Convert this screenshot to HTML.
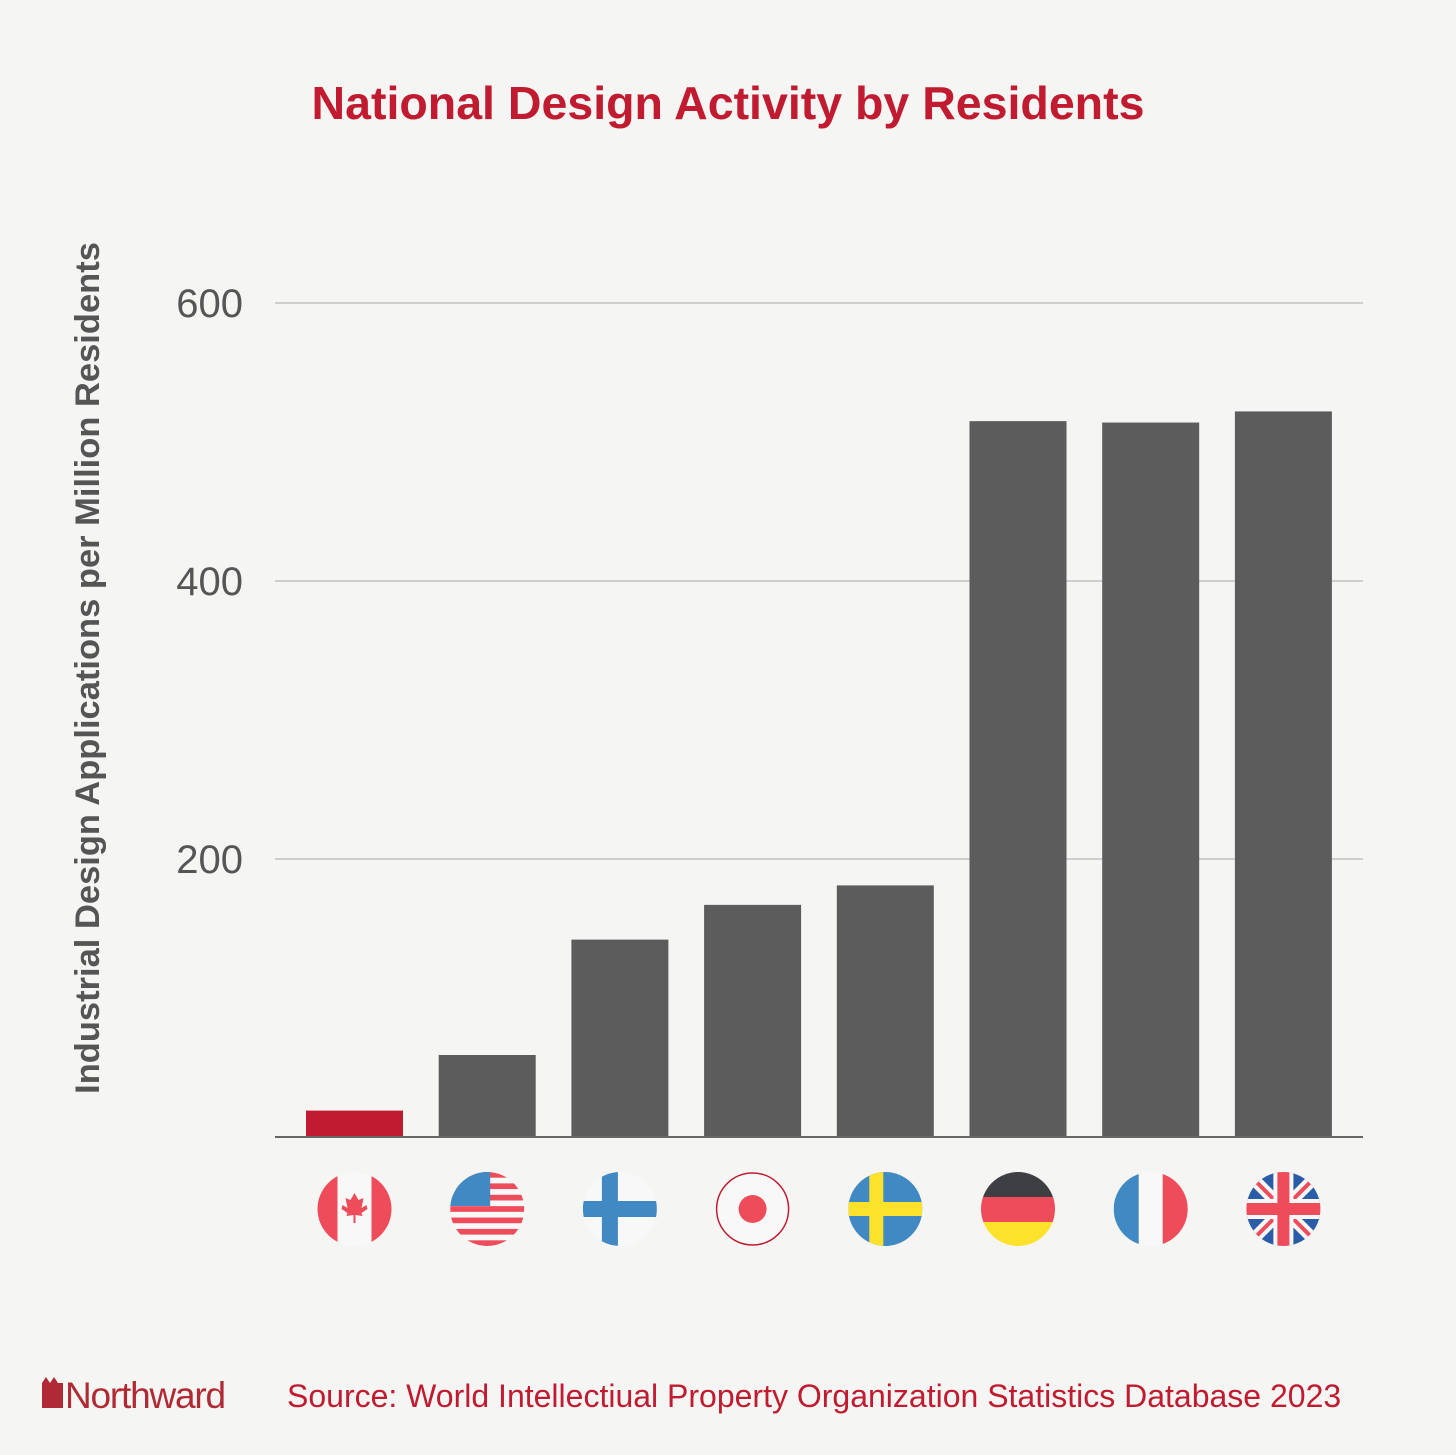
<!DOCTYPE html>
<html><head><meta charset="utf-8"><style>
html,body{margin:0;padding:0;background:#f5f5f3;}
svg{display:block;}
text{font-family:"Liberation Sans",sans-serif;}
</style></head><body>
<svg id="chart" width="1456" height="1455" viewBox="0 0 1456 1455">
<rect x="0" y="0" width="1456" height="1455" fill="#f5f5f3"/>
<text x="728" y="119" text-anchor="middle" font-size="46.5" font-weight="bold" fill="#c01b30">National Design Activity by Residents</text>
<text transform="translate(99,668) rotate(-90)" text-anchor="middle" font-size="34.5" font-weight="bold" fill="#555">Industrial Design Applications per Million Residents</text>
<g id="grid"></g><g id="bars"></g><g id="flags"></g>
<line x1="275" y1="1137" x2="1363" y2="1137" stroke="#666" stroke-width="2"/>
<g>
<path d="M42,1408 L42,1383 L46,1377 L50,1383 L54,1377 L58,1383 L63,1383 L63,1408 Z" fill="#b02a35"/>
<text x="65" y="1408" font-size="37" fill="#b02a35" letter-spacing="-1.2">Northward</text>
</g>
<text x="287" y="1407" font-size="32" fill="#c01b30">Source: World Intellectiual Property Organization Statistics Database 2023</text>
</svg>
<script>
const countries=["Canada","USA","Finland","Japan","Sweden","Germany","France","UK"];
const values=[19,59,142,167,181,515,514,522];
const yTicks=[200,400,600];
const NS="http://www.w3.org/2000/svg";
function y(v){return 1137-v*(834/600);}
function xc(i){return 354.5+i*132.7;}
function mk(t,a,p){const e=document.createElementNS(NS,t);for(const k in a)e.setAttribute(k,a[k]);p.appendChild(e);return e;}
const grid=document.getElementById('grid');
yTicks.forEach(t=>{
 const l=mk('line',{x1:275,x2:1363,y1:y(t),y2:y(t),stroke:'#a8a8a8','stroke-width':1},grid);
 
 
 const tx=mk('text',{x:243,y:y(t)+14,'text-anchor':'end','font-size':40,fill:'#555'},grid);
 tx.textContent=t;
 
 
});
const bars=document.getElementById('bars');
values.forEach((v,i)=>{
 const r=mk('rect',{x:xc(i)-48.5,y:y(v),width:97,height:1137-y(v),fill:i===0?'#c01b30':'#5c5c5c'},bars);
 
 
});
const flags=document.getElementById('flags');
const R=37,cy=1209;
const defs=mk('defs',{},flags);
countries.forEach((c,i)=>{
 const cx=xc(i);
 const cp=mk('clipPath',{id:'cp'+i},defs);
 mk('circle',{cx:cx,cy:cy,r:R},cp);
 const g=mk('g',{'clip-path':'url(#cp'+i+')'},flags);
 
 
 const W='#f8f8f8',Rd='#ef4c5b',B='#4189c3';
 const rect=(x,yy,w,h,f)=>mk('rect',{x:cx+x,y:cy+yy,width:w,height:h,fill:f},g);
 rect(-R,-R,2*R,2*R,W);
 if(c==='Canada'){rect(-R,-R,20,2*R,Rd);rect(R-20,-R,20,2*R,Rd);
  mk('path',{d:`M${cx},${cy-16} l4,7 5,-2 -2,10 5,-3 1,4 -6,4 1,3 -7,-1 0,8 -2,0 0,-8 -7,1 1,-3 -6,-4 1,-4 5,3 -2,-10 5,2z`,fill:Rd},g);}
 if(c==='USA'){for(let k=0;k<7;k++)rect(-R,-R+k*2*(2*R/13),2*R,2*R/13,Rd);rect(-R,-R,40,34,B);}
 if(c==='Finland'){rect(-R,-8,2*R,16,B);rect(-18,-R,16,2*R,B);}
 if(c==='Japan'){mk('circle',{cx:cx,cy:cy,r:14,fill:Rd},g);mk('circle',{cx:cx,cy:cy,r:36,fill:'none',stroke:'#c01b30','stroke-width':1.5},g);}
 if(c==='Sweden'){rect(-R,-R,2*R,2*R,B);rect(-R,-7,2*R,14,'#fde22c');rect(-16,-R,14,2*R,'#fde22c');}
 if(c==='Germany'){rect(-R,-R,2*R,25,'#3d3f42');rect(-R,-12,2*R,25,Rd);rect(-R,13,2*R,25,'#fde22c');}
 if(c==='France'){rect(-R,-R,25,2*R,B);rect(12,-R,26,2*R,Rd);}
 if(c==='UK'){rect(-R,-R,2*R,2*R,'#2a5ca8');
  mk('path',{d:`M${cx-R},${cy-R}L${cx+R},${cy+R}M${cx+R},${cy-R}L${cx-R},${cy+R}`,stroke:W,'stroke-width':12},g);
  mk('path',{d:`M${cx-R},${cy-R}L${cx+R},${cy+R}M${cx+R},${cy-R}L${cx-R},${cy+R}`,stroke:Rd,'stroke-width':4},g);
  rect(-R,-10,2*R,20,W);rect(-10,-R,20,2*R,W);rect(-R,-6,2*R,12,Rd);rect(-6,-R,12,2*R,Rd);}
});
</script>
</body></html>
